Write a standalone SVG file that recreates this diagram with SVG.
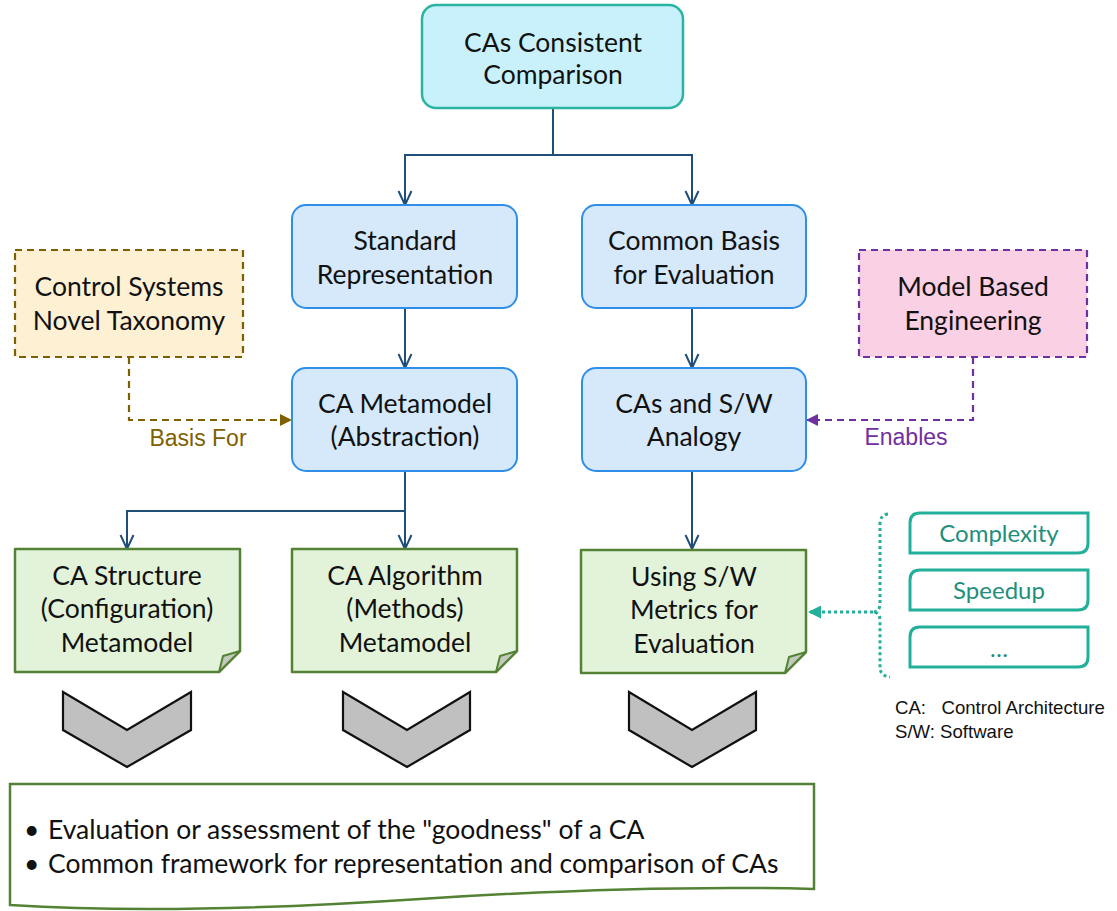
<svg xmlns="http://www.w3.org/2000/svg" width="1117" height="911" viewBox="0 0 1117 911">
  <defs>
    <style>
      .t { font-family: Lato, "Open Sans", "Liberation Sans", sans-serif; font-size: 26.5px; fill: #111; text-anchor: middle; }
      .root { fill: #c8f1fc; stroke: #2bb4a0; stroke-width: 2.5; }
      .blue { fill: #d5e9fb; stroke: #2e8ee8; stroke-width: 2; }
      .note { fill: #e3f3da; stroke: #548235; stroke-width: 2.5; stroke-linejoin: round; }
      .fold { fill: #c2cabb; stroke: #548235; stroke-width: 2; stroke-linejoin: round; }
      .conn { fill: none; stroke: #1f4e79; stroke-width: 2; }
      .chev { fill: #c0c0c0; stroke: #111; stroke-width: 2.2; stroke-linejoin: miter; }
      .metric { fill: #fff; stroke: #22b09a; stroke-width: 3; }
      .mtext { font-family: Lato, "Open Sans", sans-serif; font-size: 24px; fill: #1f8f7c; text-anchor: middle; }
      .lbl { font-family: "Liberation Sans", Arial, sans-serif; font-size: 23px; text-anchor: middle; }
      .legend { font-family: "Liberation Sans", Arial, sans-serif; font-size: 18.6px; fill: #111; }
      .bullet { font-family: Lato, "Open Sans", sans-serif; font-size: 26.5px; fill: #111; }
    </style>
    <marker id="openArrow" viewBox="0 0 16 16" refX="15" refY="8" markerWidth="16" markerHeight="16" markerUnits="userSpaceOnUse" orient="auto">
      <path d="M1,1.5 L15,8 L1,14.5" fill="none" stroke="#1f4e79" stroke-width="2"/>
    </marker>
    <marker id="goldArrow" viewBox="0 0 12 12" refX="12" refY="6" markerWidth="12" markerHeight="12" markerUnits="userSpaceOnUse" orient="auto">
      <path d="M0,0 L12,6 L0,12 Z" fill="#7f6000"/>
    </marker>
    <marker id="purpleArrow" viewBox="0 0 12 12" refX="12" refY="6" markerWidth="12" markerHeight="12" markerUnits="userSpaceOnUse" orient="auto">
      <path d="M0,0 L12,6 L0,12 Z" fill="#7030a0"/>
    </marker>
    <marker id="tealArrow" viewBox="0 0 12 12" refX="12" refY="6" markerWidth="13" markerHeight="13" markerUnits="userSpaceOnUse" orient="auto">
      <path d="M0,0 L12,6 L0,12 Z" fill="#22b09a"/>
    </marker>
  </defs>

  <rect width="1117" height="911" fill="#ffffff"/>

  <!-- connectors -->
  <g id="connectors">
    <path class="conn" d="M553,108 V155 H405 V205" marker-end="url(#openArrow)"/>
    <path class="conn" d="M553,155 H692 V205" marker-end="url(#openArrow)"/>
    <path class="conn" d="M405,308 V368" marker-end="url(#openArrow)"/>
    <path class="conn" d="M692,308 V368" marker-end="url(#openArrow)"/>
    <path class="conn" d="M405,471 V549" marker-end="url(#openArrow)"/>
    <path class="conn" d="M405,511 H127 V549" marker-end="url(#openArrow)"/>
    <path class="conn" d="M692,471 V549" marker-end="url(#openArrow)"/>
    <path d="M129,357 V420 H292" fill="none" stroke="#7f6000" stroke-width="2.2" stroke-dasharray="7 5" marker-end="url(#goldArrow)"/>
    <path d="M973,357 V420 H806" fill="none" stroke="#7030a0" stroke-width="2.2" stroke-dasharray="7 5" marker-end="url(#purpleArrow)"/>
    <!-- brace gathering the metrics -->
    <path d="M888,514 Q880,515 880,524 V603 Q880,612 873,612 Q880,612 880,621 V667 Q880,676 890,677" fill="none" stroke="#22b09a" stroke-width="3" stroke-dasharray="3 3"/>
    <path d="M873,612 H808" fill="none" stroke="#22b09a" stroke-width="3" stroke-dasharray="3 3" marker-end="url(#tealArrow)"/>
    <text class="lbl" x="198" y="446" fill="#7f6000">Basis For</text>
    <text class="lbl" x="906" y="445" fill="#7030a0">Enables</text>
  </g>

  <g id="node-root">
    <rect class="root" x="422" y="5" width="261" height="103" rx="14"/>
    <text class="t" x="553" y="52">CAs Consistent</text>
    <text class="t" x="553" y="84">Comparison</text>
  </g>

  <g id="node-standard-representation">
    <rect class="blue" x="292" y="205" width="225" height="103" rx="14"/>
    <text class="t" x="405" y="250">Standard</text>
    <text class="t" x="405" y="284">Representation</text>
  </g>

  <g id="node-common-basis">
    <rect class="blue" x="582" y="205" width="224" height="103" rx="14"/>
    <text class="t" x="694" y="250">Common Basis</text>
    <text class="t" x="694" y="284">for Evaluation</text>
  </g>

  <g id="node-ca-metamodel">
    <rect class="blue" x="292" y="368" width="225" height="103" rx="14"/>
    <text class="t" x="405" y="413">CA Metamodel</text>
    <text class="t" x="405" y="446">(Abstraction)</text>
  </g>

  <g id="node-sw-analogy">
    <rect class="blue" x="582" y="368" width="224" height="103" rx="14"/>
    <text class="t" x="694" y="413">CAs and S/W</text>
    <text class="t" x="694" y="446">Analogy</text>
  </g>

  <g id="node-taxonomy">
    <rect x="15" y="250" width="228" height="107" fill="#fdf0d3" stroke="#7f6000" stroke-width="2.2" stroke-dasharray="7 5"/>
    <text class="t" x="129" y="296">Control Systems</text>
    <text class="t" x="129" y="330">Novel Taxonomy</text>
  </g>

  <g id="node-mbe">
    <rect x="859" y="250" width="228" height="107" fill="#f9d0e4" stroke="#7030a0" stroke-width="2.2" stroke-dasharray="7 5"/>
    <text class="t" x="973" y="296">Model Based</text>
    <text class="t" x="973" y="330">Engineering</text>
  </g>

  <g id="node-structure-metamodel">
    <path class="note" d="M15,549 H240 V651 L219,672 H15 Z"/>
    <path class="fold" d="M240,651 L219,672 L223,656 Z"/>
    <text class="t" x="127" y="585">CA Structure</text>
    <text class="t" x="127" y="618">(Configuration)</text>
    <text class="t" x="127" y="652">Metamodel</text>
  </g>

  <g id="node-algorithm-metamodel">
    <path class="note" d="M292,549 H517 V651 L496,672 H292 Z"/>
    <path class="fold" d="M517,651 L496,672 L500,656 Z"/>
    <text class="t" x="405" y="585">CA Algorithm</text>
    <text class="t" x="405" y="618">(Methods)</text>
    <text class="t" x="405" y="652">Metamodel</text>
  </g>

  <g id="node-sw-metrics">
    <path class="note" d="M581,550 H806 V652 L785,673 H581 Z"/>
    <path class="fold" d="M806,652 L785,673 L789,657 Z"/>
    <text class="t" x="694" y="586">Using S/W</text>
    <text class="t" x="694" y="619">Metrics for</text>
    <text class="t" x="694" y="653">Evaluation</text>
  </g>

  <g id="metric-complexity">
    <path class="metric" d="M920,513 H1088 V543 Q1088,553 1078,553 H910 V523 Q910,513 920,513 Z"/>
    <text class="mtext" x="999" y="542">Complexity</text>
  </g>
  <g id="metric-speedup">
    <path class="metric" d="M920,570 H1088 V600 Q1088,610 1078,610 H910 V580 Q910,570 920,570 Z"/>
    <text class="mtext" x="999" y="599">Speedup</text>
  </g>
  <g id="metric-more">
    <path class="metric" d="M920,627 H1088 V657 Q1088,667 1078,667 H910 V637 Q910,627 920,627 Z"/>
    <text class="mtext" x="999" y="657">…</text>
  </g>

  <g id="chevrons">
    <path class="chev" d="M63,692 L127,730 L191,692 V730 L127,767 L63,730 Z"/>
    <path class="chev" d="M343,692 L407,730 L470,692 V730 L407,767 L343,730 Z"/>
    <path class="chev" d="M629,692 L692,730 L756,692 V730 L692,767 L629,730 Z"/>
  </g>

  <g id="node-summary">
    <path d="M10,784 H814 V889 C700,886 560,890 420,899 C300,907 150,914 10,905 Z" fill="#ffffff" stroke="#548235" stroke-width="2.5"/>
    <text class="bullet" x="24" y="839">• <tspan x="48">Evaluation or assessment of the "goodness" of a CA</tspan></text>
    <text class="bullet" x="24" y="873">• <tspan x="48">Common framework for representation and comparison of CAs</tspan></text>
  </g>

  <g id="legend">
    <text class="legend" x="895" y="714" xml:space="preserve">CA:   Control Architecture</text>
    <text class="legend" x="895" y="738">S/W: Software</text>
  </g>
</svg>
